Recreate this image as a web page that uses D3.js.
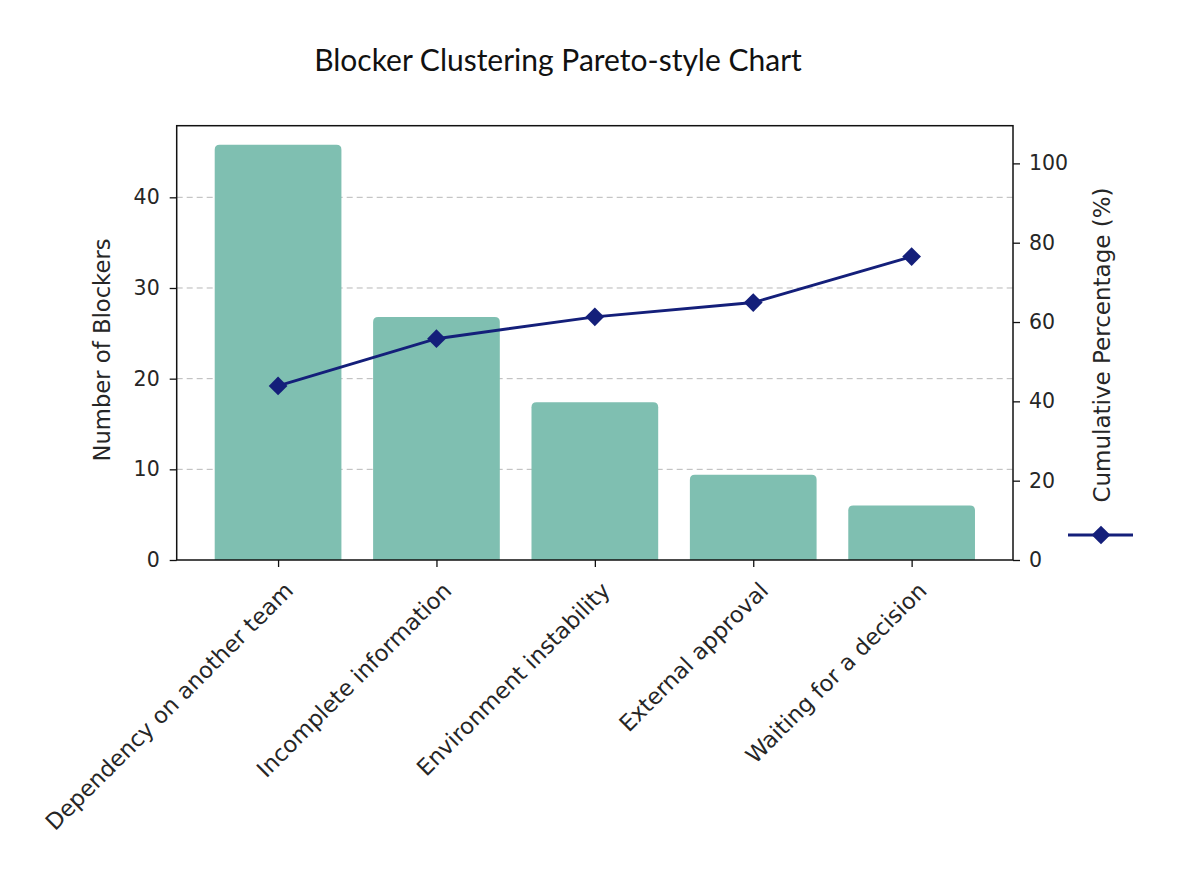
<!DOCTYPE html>
<html>
<head>
<meta charset="utf-8">
<script src="https://cdn.jsdelivr.net/npm/d3@7"></script>
<style>
  body { margin: 0; background: #fff; }
</style>
</head>
<body>
<div id="chart"></div>
<script>
// data
const categories = [
  "Dependency on another team",
  "Incomplete information",
  "Environment instability",
  "External approval",
  "Waiting for a decision"
];
const blockerCounts = [45.8, 26.8, 17.4, 9.4, 6.0];
const cumulativePct = [43.9, 55.8, 61.3, 64.9, 76.5];
const leftTicks = [0, 10, 20, 30, 40];
const rightTicks = [0, 20, 40, 60, 80, 100];

const width = 1184, height = 894;
const margin = { top: 125.7, right: 171, bottom: 334, left: 176.7 };
const innerW = width - margin.left - margin.right;
const innerH = height - margin.top - margin.bottom;

const FONT = "'DejaVu Sans'";
const barColor = "#7fbfb1";
const lineColor = "#141f7a";
const textColor = "#262626";

const svg = d3.select("#chart").append("svg")
  .attr("width", width)
  .attr("height", height);

const g = svg.append("g")
  .attr("transform", `translate(${margin.left},${margin.top})`);

// scales (matplotlib-like padding around the bars)
const x = d3.scaleLinear().domain([-0.64, categories.length - 1 + 0.64]).range([0, innerW]);
const yLeft = d3.scaleLinear().domain([0, 47.9]).range([innerH, 0]);
const yRight = d3.scaleLinear().domain([0, 109.5]).range([innerH, 0]);

// dashed grid from the left axis
g.append("g")
  .selectAll("line")
  .data(leftTicks.filter(t => t > 0))
  .join("line")
  .attr("x1", 0).attr("x2", innerW)
  .attr("y1", d => yLeft(d)).attr("y2", d => yLeft(d))
  .attr("stroke", "#b8b8b8")
  .attr("stroke-width", 1)
  .attr("stroke-dasharray", "6,4");

// bars with rounded tops
const bw = x(0.4) - x(-0.4);
const r = 5;
function barPath(i, v) {
  const x0 = x(i) - bw / 2, x1 = x(i) + bw / 2;
  const y0 = yLeft(0), y1 = yLeft(v);
  return `M${x0},${y0}V${y1 + r}Q${x0},${y1} ${x0 + r},${y1}H${x1 - r}Q${x1},${y1} ${x1},${y1 + r}V${y0}Z`;
}
g.append("g")
  .selectAll("path")
  .data(blockerCounts)
  .join("path")
  .attr("d", (d, i) => barPath(i, d))
  .attr("fill", barColor);

// cumulative line
const line = d3.line()
  .x((d, i) => x(i))
  .y(d => yRight(d));

g.append("path")
  .datum(cumulativePct)
  .attr("fill", "none")
  .attr("stroke", lineColor)
  .attr("stroke-width", 3)
  .attr("d", line);

const diamond = d3.symbol().type(d3.symbolSquare).size(175);
g.append("g")
  .selectAll("path")
  .data(cumulativePct)
  .join("path")
  .attr("d", diamond)
  .attr("transform", (d, i) => `translate(${x(i)},${yRight(d)}) rotate(45)`)
  .attr("fill", lineColor);

// frame
g.append("rect")
  .attr("width", innerW).attr("height", innerH)
  .attr("fill", "none")
  .attr("stroke", "#111")
  .attr("stroke-width", 1.5);

// axes
const xAxis = g.append("g")
  .attr("transform", `translate(0,${innerH})`)
  .call(d3.axisBottom(x).tickValues(d3.range(categories.length)).tickSize(7).tickFormat(i => categories[i]));
xAxis.select(".domain").remove();
xAxis.selectAll("line").attr("stroke", "#111").attr("stroke-width", 1.3);
xAxis.selectAll("text")
  .attr("font-family", FONT)
  .attr("font-size", "22.6px")
  .attr("fill", textColor)
  .attr("text-anchor", "end")
  .attr("dy", null)
  .attr("transform", "translate(16,32) rotate(-45)")
  .attr("x", 0).attr("y", 0);

const leftAxis = g.append("g")
  .call(d3.axisLeft(yLeft).tickValues(leftTicks).tickSize(7).tickPadding(10));
leftAxis.select(".domain").remove();
leftAxis.selectAll("line").attr("stroke", "#111").attr("stroke-width", 1.3);
leftAxis.selectAll("text").attr("font-family", FONT).attr("font-size", "20.5px").attr("fill", textColor);

const rightAxis = g.append("g")
  .attr("transform", `translate(${innerW},0)`)
  .call(d3.axisRight(yRight).tickValues(rightTicks).tickSize(7).tickPadding(9));
rightAxis.select(".domain").remove();
rightAxis.selectAll("line").attr("stroke", "#111").attr("stroke-width", 1.3);
rightAxis.selectAll("text").attr("font-family", FONT).attr("font-size", "20.5px").attr("fill", textColor);

// axis labels
svg.append("text")
  .attr("transform", `translate(110,350) rotate(-90)`)
  .attr("text-anchor", "middle")
  .attr("font-family", FONT)
  .attr("font-size", "22.7px")
  .attr("fill", textColor)
  .text("Number of Blockers");

svg.append("text")
  .attr("transform", `translate(1110,345) rotate(-90)`)
  .attr("text-anchor", "middle")
  .attr("font-family", FONT)
  .attr("font-size", "23px")
  .attr("fill", textColor)
  .text("Cumulative Percentage (%)");

// title
svg.append("text")
  .attr("x", 558)
  .attr("y", 71)
  .attr("text-anchor", "middle")
  .attr("font-family", "Lato, 'Open Sans', sans-serif")
  .attr("font-size", "30px")
  .attr("fill", "#111")
  .text("Blocker Clustering Pareto-style Chart");

// legend handle (label falls outside the figure)
const legend = svg.append("g").attr("transform", "translate(1068,535)");
legend.append("line")
  .attr("x1", 0).attr("x2", 65)
  .attr("stroke", lineColor)
  .attr("stroke-width", 3);
legend.append("path")
  .attr("d", diamond)
  .attr("transform", "translate(33,0) rotate(45)")
  .attr("fill", lineColor);
</script>
</body>
</html>
